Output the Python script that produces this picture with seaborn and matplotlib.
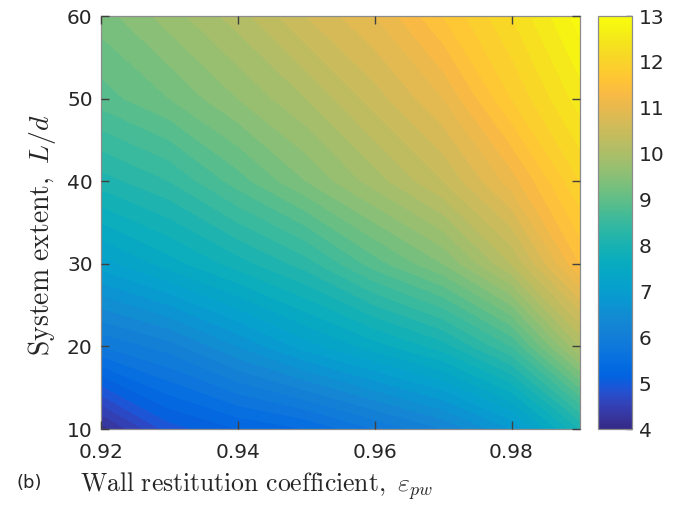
import numpy as np
import matplotlib
matplotlib.use("Agg")
import matplotlib.pyplot as plt
import seaborn as sns

# ---- data ----
eps_pw = [0.92, 0.93, 0.94, 0.95, 0.96, 0.97, 0.98, 0.99]
L_over_d = [10, 20, 30, 40, 50, 60]
row_L10 = [4.1, 4.9, 5.2, 5.4, 5.8, 6.2, 6.8, 8.0]
row_L20 = [5.8, 6.1, 6.6, 7.1, 7.5, 7.9, 8.6, 10.0]
row_L30 = [7.1, 7.5, 7.9, 8.3, 8.9, 9.4, 10.2, 11.4]
row_L40 = [8.1, 8.4, 8.9, 9.4, 9.9, 10.4, 11.1, 12.0]
row_L50 = [8.9, 9.2, 9.6, 10.0, 10.5, 11.0, 11.8, 12.5]
row_L60 = [9.3, 9.7, 10.1, 10.6, 11.0, 11.6, 12.2, 12.9]
cbar_ticks = [4, 5, 6, 7, 8, 9, 10, 11, 12, 13]
x_ticks = [0.92, 0.94, 0.96, 0.98]
y_ticks = [10, 20, 30, 40, 50, 60]

parula = [
    (0.2081, 0.1663, 0.5292), (0.2123, 0.2138, 0.6270), (0.1959, 0.2645, 0.7279),
    (0.1253, 0.3242, 0.8303), (0.0117, 0.3875, 0.8820), (0.0165, 0.4266, 0.8786),
    (0.0498, 0.4586, 0.8641), (0.0723, 0.4887, 0.8467), (0.0793, 0.5200, 0.8312),
    (0.0641, 0.5570, 0.8240), (0.0343, 0.5966, 0.8199), (0.0239, 0.6287, 0.8038),
    (0.0228, 0.6535, 0.7768), (0.0384, 0.6743, 0.7436), (0.0843, 0.6928, 0.7062),
    (0.1453, 0.7098, 0.6646), (0.2178, 0.7250, 0.6193), (0.3022, 0.7376, 0.5712),
    (0.3953, 0.7459, 0.5244), (0.4871, 0.7491, 0.4840), (0.5709, 0.7485, 0.4494),
    (0.6473, 0.7456, 0.4188), (0.7184, 0.7411, 0.3905), (0.7858, 0.7356, 0.3633),
    (0.8507, 0.7299, 0.3360), (0.9139, 0.7258, 0.3063), (0.9739, 0.7314, 0.2666),
    (0.9990, 0.7653, 0.2164), (0.9880, 0.8066, 0.1794), (0.9697, 0.8481, 0.1475),
    (0.9589, 0.8949, 0.1132), (0.9661, 0.9514, 0.0755), (0.9763, 0.9831, 0.0538),
]

sns.set_style("ticks")
plt.rcParams["font.family"] = ["DejaVu Sans"]
plt.rcParams["mathtext.fontset"] = "cm"

cmap = sns.blend_palette(parula, n_colors=256, as_cmap=True)

X, Y = np.meshgrid(eps_pw, L_over_d)
Z = np.array([row_L10, row_L20, row_L30, row_L40, row_L50, row_L60])

fig = plt.figure(figsize=(6.95, 5.08), dpi=100)
ax = fig.add_axes([0.1453, 0.1555, 0.6892, 0.813])
cax = fig.add_axes([0.8604, 0.1555, 0.049, 0.813])

levels = np.linspace(4, 13, 46)
cs = ax.contourf(X, Y, Z, levels=levels, cmap=cmap, vmin=4, vmax=13, zorder=0)
ax.set_xlim(0.92, 0.99)
ax.set_ylim(10, 60)
ax.set_xticks(x_ticks)
ax.set_xticklabels([f"{v:.2f}" for v in x_ticks])
ax.set_yticks(y_ticks)
ax.tick_params(direction="in", top=True, right=True, labelsize=14.5,
               color="#404040", labelcolor="#262626", length=6, width=1.0)
ax.tick_params(axis="x", pad=10)
ax.tick_params(axis="y", pad=6)
ax.set_axisbelow(False)
for s in ax.spines.values():
    s.set_color("#8c8c8c")
    s.set_linewidth(0.9)

ax.set_xlabel(r"$\mathrm{Wall\ restitution\ coefficient,}\ \varepsilon_{pw}$",
              fontsize=18.5, color="#262626")
ax.xaxis.set_label_coords(0.324, -0.10)
ax.set_ylabel(r"$\mathrm{System\ extent,}\ L/d$", fontsize=20, color="#262626")
ax.yaxis.set_label_coords(-0.09, 0.47)

sm = matplotlib.cm.ScalarMappable(norm=matplotlib.colors.Normalize(4, 13), cmap=cmap)
cb = fig.colorbar(sm, cax=cax, ticks=cbar_ticks)
cb.ax.tick_params(direction="in", labelsize=14.5, color="#404040",
                  labelcolor="#262626", length=4, width=1.0, pad=5)
cb.outline.set_edgecolor("#8c8c8c")
cb.outline.set_linewidth(0.9)

fig.text(16 / 695, 1 - 483 / 508, "(b)", fontsize=13, color="#262626",
         ha="left", va="center")

fig.savefig("out.png", dpi=100)
